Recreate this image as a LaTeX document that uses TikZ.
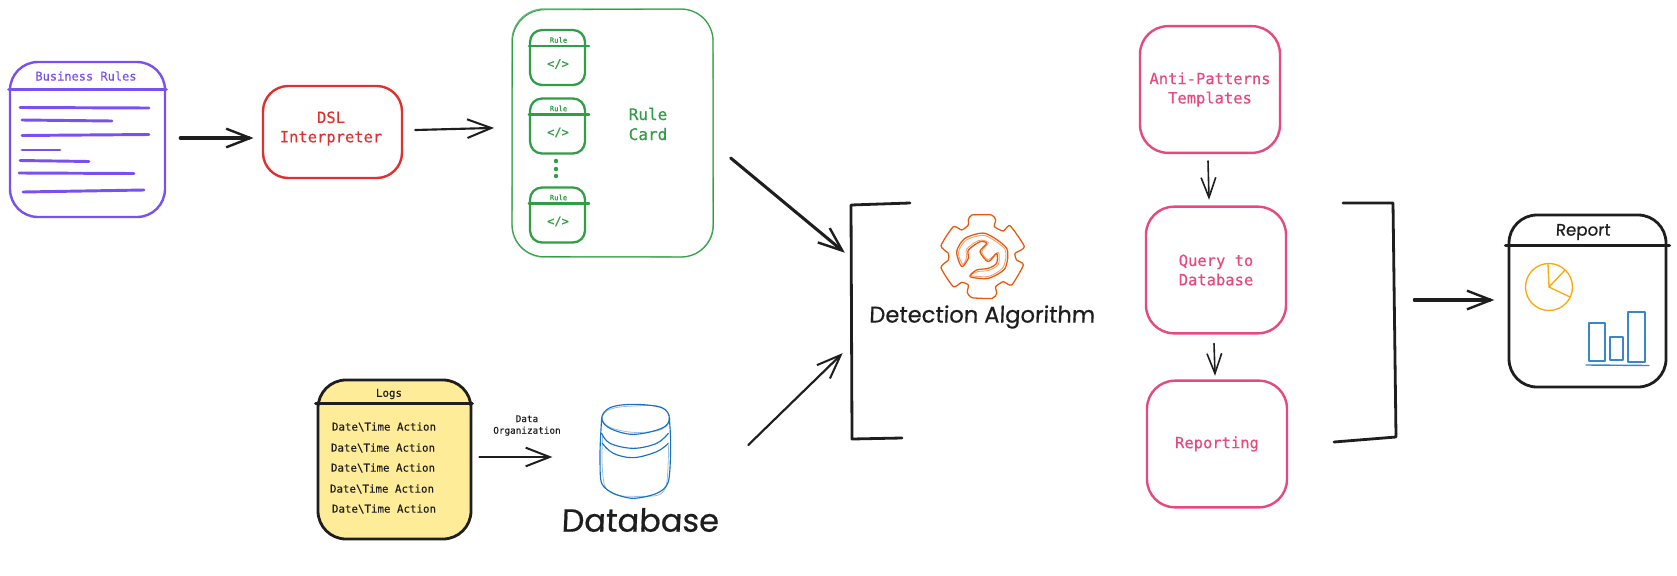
\documentclass[tikz,border=0pt]{standalone}
\usepackage{fontspec}
\setmonofont[FakeBold=0.35]{DejaVu Sans Mono}
\newfontfamily\handfont[FakeBold=0.5,FakeSlant=0.04]{Poppins}
\usetikzlibrary{arrows.meta,calc}
\definecolor{ink}{HTML}{1E1E1E}
\definecolor{purp}{HTML}{7950F2}
\definecolor{redc}{HTML}{E03131}
\definecolor{grn}{HTML}{2F9E44}
\definecolor{pink}{HTML}{E64980}
\definecolor{blu}{HTML}{1971C2}
\definecolor{org}{HTML}{E8590C}
\definecolor{yel}{HTML}{FFEC99}
\definecolor{pie}{HTML}{F9AB0C}
\newcommand{\fsz}[1]{\fontsize{#1}{1.25\dimexpr#1pt\relax}\selectfont}
\tikzset{
  sk/.style={line cap=round,line join=round},
  rbox/.style={sk,draw,rounded corners=19pt,inner sep=0pt,align=center},
  arr/.style={sk,draw=ink,line width=2.3pt,shorten >=-2pt,-{Straight Barb[length=18pt,width=14pt,line width=1.8pt]}},
  arrthin/.style={sk,draw=ink,line width=1.6pt,shorten >=-2pt,-{Straight Barb[length=18pt,width=14pt,line width=1.5pt]}},
  arrsmall/.style={sk,draw=ink,line width=1.2pt,shorten >=-1pt,-{Straight Barb[length=15pt,width=11pt,line width=1.2pt]}},
  ttmono/.style={font=\ttfamily\fsz{11.6},align=center,inner sep=0pt},
  logline/.style={font=\ttfamily\fsz{8.1},text=ink,inner sep=0pt},
  rulebox/.style={rbox,draw=grn,line width=1.7pt,rounded corners=9pt,minimum width=41.25pt,minimum height=41.25pt},
  ruletxt/.style={font=\ttfamily\fsz{5.4},text=grn,inner sep=0pt},
  codetxt/.style={font=\ttfamily\fsz{9},text=grn,inner sep=0pt},
  pinkbox/.style={rbox,draw=pink,line width=1.8pt,rounded corners=21pt,font=\ttfamily\fsz{11.6},text=pink,minimum width=105pt,minimum height=95pt},
  phantombox/.style={inner sep=0pt},
  hand/.style={font=\handfont,text=ink,inner sep=0pt},
}
\begin{document}
\begin{tikzpicture}[x=0.75pt,y=-0.75pt]
\useasboundingbox (0,0) rectangle (1677,575);
\fill[white] (0,0) rectangle (1677,575);

% Business rules
\node[rbox,draw=purp,line width=1.8pt,rounded corners=21pt,minimum width=116.25pt,minimum height=116.25pt] (biz) at (87.5,139.5) {};
\draw[purp,line width=2.4pt,sk] ($(biz.north west)+(0,29)$) -- ($(biz.north east)+(0,29)$);
\node[font=\ttfamily\fsz{9},text=purp,inner sep=0pt] (biztxt) at (86,76) {Business Rules};
\foreach \xa/\xb/\yy/\yz in {20/149/107.5/108,22/112/120/121,22/149/135.5/134.5,22/60/150/150,20/89/160.5/161.5,19/134/173/173.5,23/144/192/190}
  \draw[purp,line width=2.2pt,sk] (\xa,\yy) -- (\xb,\yz);

% DSL
\node[rbox,draw=redc,line width=1.8pt,minimum width=104.25pt,minimum height=69pt] (dsl) at (332.5,132) {};
\node[ttmono,text=redc] (dsltxt) at (331,128.5) {DSL\\Interpreter};

% Rule card
\node[rbox,draw=grn!75,line width=1pt,rounded corners=24pt,minimum width=150.75pt,minimum height=186pt] (card) at (612.5,133) {};
\draw[grn,line width=0.6pt,rounded corners=24pt,sk] (512.5,10) -- (713,9) -- (713.5,257) -- (512,256.5) -- cycle;
\foreach \n/\yc in {1/57.5,2/126,3/215}{
  \node[rulebox] (r\n) at (557.5,\yc) {};
  \draw[grn,line width=1.7pt,sk] ($(r\n.north west)+(0,17)$) -- ($(r\n.north east)+(3,17)$);
  \node[ruletxt] (rt\n) at (558.5,\yc-17.5) {Rule};
  \node[codetxt] (rc\n) at (558,\yc+6.5) {</>};
}
\foreach \yy in {161,169,176}
  \fill[grn] (556,\yy) circle[radius=2.2];
\node[ttmono,text=grn,font=\ttfamily\fsz{12}] (cardtxt) at (648,124) {Rule\\Card};

% Logs
\node[rbox,draw=ink,fill=yel,line width=2.1pt,rounded corners=21pt,minimum width=114.75pt,minimum height=119.25pt] (logs) at (394.5,459.5) {};
\draw[ink,line width=2.3pt,sk] ($(logs.north west)+(-1,25)$) -- ($(logs.north east)+(0,25)$);
\node[logline] (lg) at (389,394) {Logs};
\foreach \n/\xx/\yy in {1/384/427,2/383/448,3/383/468,4/382/489,5/384/509}
  \node[logline] (lg\n) at (\xx,\yy) {Date\textbackslash Time Action};
\node[font=\ttfamily\fsz{7},text=ink,align=center,inner sep=0pt] (orgtxt) at (527,425.5) {Data\\Organization};

% Database
\node[phantombox,minimum width=52.5pt,minimum height=70pt] (db) at (635,451.5) {};
\begin{scope}[shift={(590,395)},x=0.25pt,y=-0.25pt,blu,line width=0.85pt,sk]
  \draw plot[smooth cycle,tension=0.6] coordinates {(35,70)(60,38)(130,28)(215,38)(238,70)(215,100)(130,118)(60,100)};
  \draw[opacity=.45,line width=0.6pt] plot[smooth cycle,tension=0.6] coordinates {(37,68)(62,42)(130,33)(212,35)(240,72)(212,104)(130,112)(58,96)};
  \draw plot[smooth,tension=0.5] coordinates {(35,70)(31,140)(30,200)(35,265)(70,295)(130,310)(200,295)(235,260)(242,150)(238,70)};
  \draw[opacity=.45,line width=0.6pt] plot[smooth,tension=0.5] coordinates {(38,120)(36,200)(45,275)(80,300)(130,304)(205,300)(230,265)(236,150)};
  \draw plot[smooth,tension=0.6] coordinates {(35,115)(60,145)(130,160)(200,145)(235,115)};
  \draw plot[smooth,tension=0.6] coordinates {(37,145)(70,175)(130,188)(200,170)(235,145)};
\end{scope}
\node[hand,font=\handfont\fsz{24}] (dbtxt) at (640,520) {Database};

% Detection group
\node[phantombox,minimum width=408.75pt,minimum height=177.75pt] (algbr) at (1123.5,321.5) {};
\draw[ink,line width=2.1pt,sk] (910,203) -- (851,205) -- (852,439) -- (902,438);
\draw[ink,line width=2.1pt,sk] (1343,203) -- (1393,203) -- (1396,437) -- (1334,442);
\begin{scope}[shift={(935,205)},x=0.25pt,y=-0.25pt,org,line width=0.95pt,sk]
  \draw plot[smooth cycle,tension=0.35] coordinates {(100,45)(110,30)(170,30)(182,45)(178,65)(205,78)(225,62)(268,125)(240,145)(245,165)(265,180)(230,240)(205,230)(182,245)(185,265)(172,280)(110,278)(97,262)(100,240)(80,232)(55,245)(18,188)(40,165)(40,145)(18,122)(55,65)(80,75)(100,60)};
  \draw plot[smooth cycle,tension=0.45] coordinates {(105,215)(160,220)(210,190)(215,130)(150,85)(90,100)(65,140)(80,185)(100,160)(100,135)(135,110)(155,115)(135,140)(160,170)(185,145)(185,175)(160,190)(125,195)};
  \draw[opacity=.55,line width=0.7pt] plot[smooth cycle,tension=0.45] coordinates {(108,212)(162,214)(205,186)(210,133)(150,92)(94,105)(70,142)(83,178)(95,158)(95,132)(132,106)(160,113)(140,140)(160,164)(190,142)(190,178)(162,196)(128,200)};
\end{scope}
\node[hand,font=\handfont\fsz{17}] (algtxt) at (982,317) {Detection Algorithm};

% Pink column
\node[pinkbox] (tpl) at (1210,89.5) {Anti-Patterns\\Templates};
\node[pinkbox] (qry) at (1216,270) {Query to\\Database};
\node[pinkbox] (rep) at (1217,444) {Reporting};

% Report
\node[rbox,draw=ink,line width=2.1pt,rounded corners=21pt,minimum width=117.75pt,minimum height=129pt] (report) at (1587.5,301) {};
\draw[ink,line width=2.7pt,sk] ($(report.north west)+(-2,32)$) -- ($(report.north east)+(2,32)$);
\node[hand,font=\handfont\fsz{12.5}] (reptxt) at (1583,232) {Report};
\begin{scope}[pie,line width=1pt,sk]
  \draw (1549,287) circle[radius=23.5];
  \draw (1548,264) -- (1549,287) -- (1565,270);
  \draw (1549,287) -- (1570,297);
\end{scope}
\begin{scope}[blu!85,line width=1.05pt,sk]
  \draw (1589,323) rectangle (1605,361);
  \draw (1610,337) rectangle (1623,360);
  \draw (1628,312) rectangle (1645,362);
  \draw (1586,365) -- (1649,365.5);
\end{scope}

% Connectors
\draw[arr] ($(biz.east)+(14,-1.5)$) -- ($(dsl.west)+(-11,6)$);
\draw[arrthin] ($(dsl.east)+(12,-2)$) -- ($(card.west)+(-20,-5)$);
\draw[arr] ($(card.east)+(17,25)$) -- ($(algbr.west)+(-8,-70.5)$);
\draw[arrthin] ($(db.east)+(78,-6.5)$) -- ($(algbr.west)+(-10,33.5)$);
\draw[arrthin] ($(logs.east)+(7,-2.5)$) -- ($(db.west)+(-50,5.5)$);
\draw[arrsmall] ($(tpl.south)+(-2,7)$) -- ($(qry.north)+(-7,-7)$);
\draw[arrsmall] ($(qry.south)+(-2,9)$) -- ($(rep.north)+(-2,-5)$);
\draw[arr] ($(algbr.east)+(18,-21.5)$) -- ($(report.west)+(-16,-1)$);
\end{tikzpicture}
\end{document}
